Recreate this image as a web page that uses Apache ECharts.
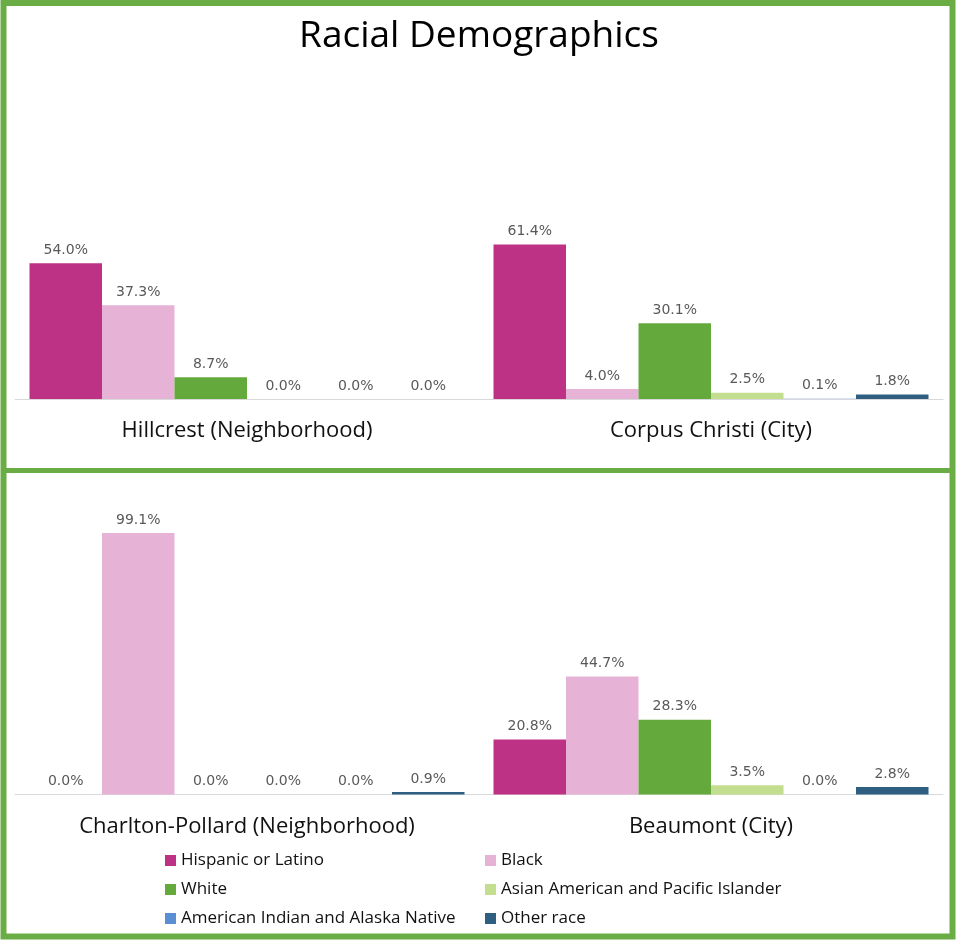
<!DOCTYPE html>
<html>
<head>
<meta charset="utf-8">
<script src="https://cdn.jsdelivr.net/npm/echarts@6/dist/echarts.min.js"></script>
<style>
html,body{margin:0;padding:0;background:#fff;}
#c{width:958px;height:941px;}
</style>
</head>
<body>
<div id="c"></div>
<script>
var topPlaces = ['Hillcrest (Neighborhood)', 'Corpus Christi (City)'];
var bottomPlaces = ['Charlton-Pollard (Neighborhood)', 'Beaumont (City)'];
var groups = ['Hispanic or Latino', 'Black', 'White', 'Asian American and Pacific Islander', 'American Indian and Alaska Native', 'Other race'];
var colors = ['#BE3285', '#E6B3D7', '#64A93C', '#C2DE8E', '#5B8FD4', '#2E5F80'];
// values per group: [top place 1, top place 2]
var hispanicTop = [54.0, 61.4];
var blackTop = [37.3, 4.0];
var whiteTop = [8.7, 30.1];
var asianTop = [0.0, 2.5];
var amIndTop = [0.0, 0.1];
var otherTop = [0.0, 1.8];
// values per group: [bottom place 1, bottom place 2]
var hispanicBottom = [0.0, 20.8];
var blackBottom = [99.1, 44.7];
var whiteBottom = [0.0, 28.3];
var asianBottom = [0.0, 3.5];
var amIndBottom = [0.0, 0.0];
var otherBottom = [0.9, 2.8];

var topData = [hispanicTop, blackTop, whiteTop, asianTop, amIndTop, otherTop];
var bottomData = [hispanicBottom, blackBottom, whiteBottom, asianBottom, amIndBottom, otherBottom];

var FONT = 'Open Sans';
var series = [];
function addSeries(dataArr, idx) {
  groups.forEach(function (g, i) {
    series.push({
      name: g,
      type: 'bar',
      xAxisIndex: idx,
      yAxisIndex: idx,
      barGap: '0%',
      barCategoryGap: '6.25%',
      data: dataArr[i],
      itemStyle: { color: colors[i] },
      label: {
        show: true,
        position: 'top',
        distance: 6,
        color: '#595959',
        fontSize: 14,
        fontFamily: 'DejaVu Sans',
        formatter: function (p) { return p.value.toFixed(1) + '%'; }
      },
      emphasis: { disabled: true }
    });
  });
}
addSeries(topData, 0);
addSeries(bottomData, 1);

function xAx(data, idx) {
  return {
    type: 'category', gridIndex: idx, data: data,
    axisLine: { lineStyle: { color: '#D9D9D9', width: 1 } },
    axisTick: { show: false },
    axisLabel: { color: '#111', fontSize: 22, fontFamily: FONT, margin: 21, interval: 0 }
  };
}
function yAx(max, idx) {
  return { type: 'value', gridIndex: idx, min: 0, max: max, show: false, splitLine: { show: false } };
}

var legendText = { fontSize: 17, color: '#111', fontFamily: FONT };
var chart = echarts.init(document.getElementById('c'), null, { renderer: 'canvas' });
chart.setOption({
  backgroundColor: '#fff',
  animation: false,
  title: {
    text: 'Racial Demographics', left: 'center', top: 13,
    textStyle: { fontSize: 37, fontWeight: 'normal', color: '#000', fontFamily: FONT }
  },
  grid: [
    { left: 15, right: 15, top: 223, height: 176, containLabel: false },
    { left: 15, right: 15, top: 530.5, height: 264, containLabel: false }
  ],
  xAxis: [xAx(topPlaces, 0), xAx(bottomPlaces, 1)],
  yAxis: [yAx(70, 0), yAx(100, 1)],
  legend: [
    {
      data: [groups[0], groups[2], groups[4]], orient: 'vertical', left: 160, top: 847,
      icon: 'rect', itemWidth: 11, itemHeight: 11, itemGap: 12,
      textStyle: legendText, selectedMode: false
    },
    {
      data: [groups[1], groups[3], groups[5]], orient: 'vertical', left: 480, top: 847,
      icon: 'rect', itemWidth: 11, itemHeight: 11, itemGap: 12,
      textStyle: legendText, selectedMode: false
    }
  ],
  graphic: [
    { type: 'rect', shape: { x: 3.5, y: 3, width: 949, height: 933.5 }, style: { fill: null, stroke: '#6AAD45', lineWidth: 6 }, z: 100 },
    { type: 'line', shape: { x1: 3, y1: 470.5, x2: 953, y2: 470.5 }, style: { stroke: '#6AAD45', lineWidth: 5 }, z: 100 }
  ],
  series: series
});
</script>
</body>
</html>
